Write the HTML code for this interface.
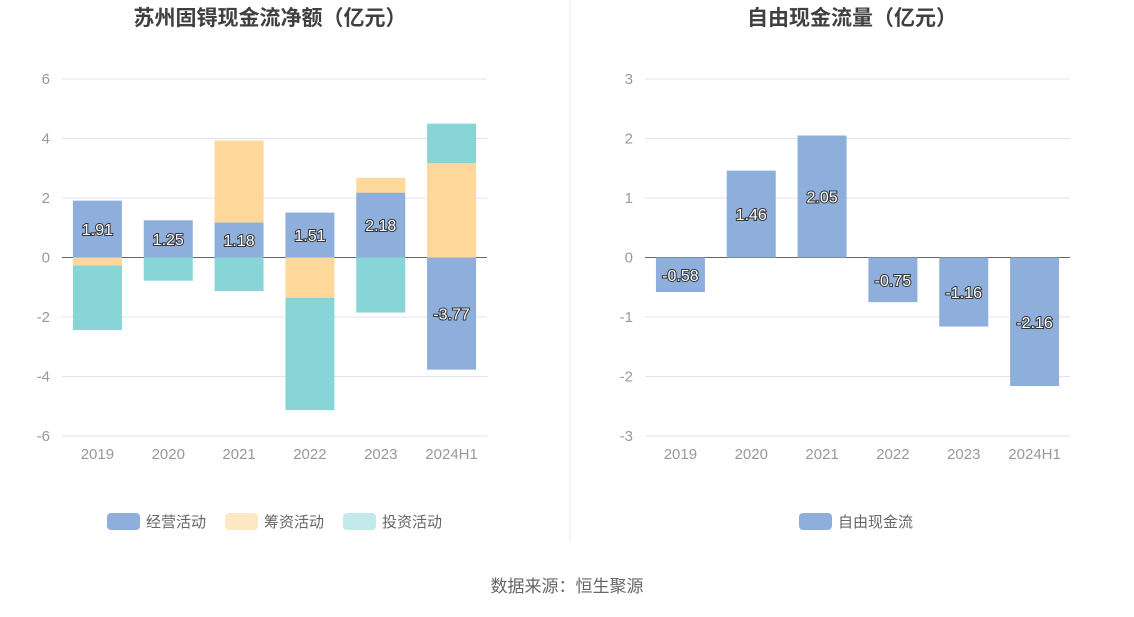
<!DOCTYPE html>
<html><head><meta charset="utf-8">
<style>
body{margin:0;background:#fff;font-family:"Liberation Sans","Noto Sans CJK SC",sans-serif;}
svg text{font-family:"Liberation Sans","Noto Sans CJK SC",sans-serif;}
</style></head>
<body>
<svg id="c" width="1134" height="612">
<text x="270" y="25" text-anchor="middle" font-size="21" font-weight="bold" fill="#404040">苏州固锝现金流净额（亿元）</text>
<text x="852" y="25" text-anchor="middle" font-size="21" font-weight="bold" fill="#404040">自由现金流量（亿元）</text>
<line x1="570" y1="0" x2="570" y2="542" stroke="#e8e8ee"/>
<text x="567" y="592" text-anchor="middle" font-size="17" fill="#666">数据来源：恒生聚源</text>
<g id="L"></g><g id="R"></g>
</svg>
<script>
const categories=["2019","2020","2021","2022","2023","2024H1"];
const operating=[1.91,1.25,1.18,1.51,2.18,-3.77];
const financing=[-0.27,0,2.75,-1.35,0.5,3.17];
const investing=[-2.17,-0.78,-1.13,-3.78,-1.85,1.33];
const leftTicks=[-6,-4,-2,0,2,4,6];
const freeCash=[-0.58,1.46,2.05,-0.75,-1.16,-2.16];
const rightTicks=[-3,-2,-1,0,1,2,3];
const NS="http://www.w3.org/2000/svg";
function el(p,t,a){const e=document.createElementNS(NS,t);for(const k in a)e.setAttribute(k,a[k]);p.appendChild(e);return e;}
function chart(g,x0,x1,ticks,yTop,yBot,series,colors,names,legendColors,legendX){
  const min=ticks[0],max=ticks[ticks.length-1];
  const y=v=>yTop+(max-v)/(max-min)*(yBot-yTop);
  const band=(x1-x0)/categories.length;
  ticks.forEach(t=>{
    const l=el(g,'line',{x1:x0,x2:x1,y1:y(t),y2:y(t),stroke:t===0?'#666':'#e0e3ee'});
    
    
    const tx=el(g,'text',{x:x0-12,y:y(t)+5,'text-anchor':'end','font-size':15,fill:'#999'});
    tx.textContent=t;
    
    
  });
  categories.forEach((c,i)=>{
    const cx=x0+band*(i+0.5);
    const tx=el(g,'text',{x:cx,y:yBot+23,'text-anchor':'middle','font-size':15,fill:'#999'});
    tx.textContent=c;
    
    
    let pos=0,neg=0;
    series.forEach((s,k)=>{
      const v=s[i]; if(!v) return;
      let a,b; if(v>0){a=pos;b=pos+v;pos=b;}else{a=neg;b=neg+v;neg=b;}
      const r=el(g,'rect',{x:cx-24.5,y:Math.min(y(a),y(b)),width:49,height:Math.abs(y(a)-y(b)),fill:colors[k]});
      
      
    });
    const v=series[0][i];
    const lb=el(g,'text',{x:cx,y:y(v/2)+6,'text-anchor':'middle','font-size':16,fill:'#fff',stroke:'#333','stroke-width':2,'paint-order':'stroke'});
    lb.textContent=v.toFixed(2);
    
    
  });
  let lx=legendX;
  names.forEach((n,k)=>{
    const r=el(g,'rect',{x:lx,y:513,width:33,height:17,rx:4,fill:legendColors[k]});
    
    
    const t=el(g,'text',{x:lx+39,y:527,'font-size':15,fill:'#666'});
    t.textContent=n;
    
    
    lx+=118;
  });
}
chart(document.getElementById('L'),62,487,leftTicks,79,436,[operating,financing,investing],['#8eaedb','#fdd89a','#88d5d8'],['经营活动','筹资活动','投资活动'],['#8eaedb','#fde8c4','#c2eaea'],107);
chart(document.getElementById('R'),645,1070,rightTicks,79,436,[freeCash],['#8eaedb'],['自由现金流'],['#8eaedb'],799);
</script>
</body></html>
